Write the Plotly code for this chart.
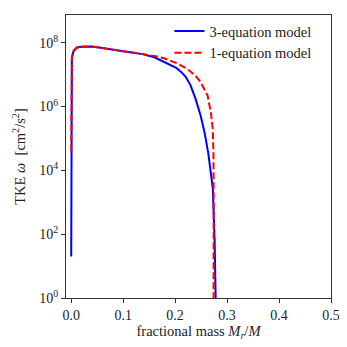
import plotly.graph_objects as go

# 3-equation model (blue, solid)
mass_3eq = [0.0, 0.0, 0.0013, 0.0046, 0.011, 0.02, 0.03, 0.04, 0.06, 0.08, 0.1, 0.12,
            0.137, 0.16, 0.177, 0.19, 0.203, 0.212, 0.22, 0.2295, 0.2394, 0.2494, 0.257,
            0.264, 0.268, 0.2725, 0.276, 0.278]
tke_3eq = [2.0e1, 1.26e7, 3.4e7, 5.5e7, 7.1e7, 7.5e7, 7.6e7, 7.6e7, 6.9e7, 6.0e7, 5.4e7, 4.9e7,
           4.4e7, 3.5e7, 2.6e7, 2.1e7, 1.6e7, 1.2e7, 8.7e6, 4.7e6, 1.74e6, 5.0e5, 1.45e5,
           3.3e4, 1.0e4, 2.75e3, 6.8e1, 1.0]

# 1-equation model (red, dashed)
mass_1eq = [0.0, 0.0, 0.0013, 0.0046, 0.011, 0.02, 0.03, 0.04, 0.06, 0.08, 0.1, 0.12,
            0.137, 0.163, 0.18, 0.203, 0.218, 0.2295, 0.24, 0.249, 0.2625, 0.269, 0.2725,
            0.2738, 0.2742, 0.274]
tke_1eq = [4.0e4, 1.26e7, 3.4e7, 5.5e7, 7.1e7, 7.5e7, 7.6e7, 7.6e7, 6.9e7, 6.0e7, 5.4e7, 4.9e7,
           4.4e7, 3.8e7, 3.2e7, 2.3e7, 1.7e7, 1.26e7, 8.9e6, 5.9e6, 2.2e6, 6.3e5, 1.86e5,
           3.3e4, 1.0e3, 0.8]

x_ticks = [0.0, 0.1, 0.2, 0.3, 0.4, 0.5]
x_labels = ["0.0", "0.1", "0.2", "0.3", "0.4", "0.5"]
y_ticks = [1, 1e2, 1e4, 1e6, 1e8]
y_labels = ["10<sup>0</sup>", "10<sup>2</sup>", "10<sup>4</sup>", "10<sup>6</sup>", "10<sup>8</sup>"]

font = "Liberation Serif"
ink = "#222222"

fig = go.Figure()
fig.add_trace(go.Scatter(x=mass_3eq, y=tke_3eq, mode="lines", name="3-equation model",
                         line=dict(color="#0000ff", width=2)))
fig.add_trace(go.Scatter(x=mass_1eq, y=tke_1eq, mode="lines", name="1-equation model",
                         line=dict(color="#ff0000", width=2, dash="7px,3px")))

axis_common = dict(showline=True, linecolor="#333333", linewidth=1.2, mirror=True,
                   ticks="outside", ticklen=4, tickcolor="#333333", showgrid=False,
                   zeroline=False, automargin=False,
                   tickfont=dict(family=font, size=14, color=ink))

fig.update_xaxes(range=[-0.01, 0.5], tickvals=x_ticks, ticktext=x_labels,
                 title=dict(text="fractional mass <i>M<sub>r</sub></i>/<i>M</i>",
                            font=dict(family=font, size=14.5, color=ink), standoff=2),
                 **axis_common)
fig.update_yaxes(type="log", range=[0, 8.87], tickvals=y_ticks, ticktext=y_labels,
                 title=dict(text="TKE <i>ω</i>  [cm<sup>2</sup>/s<sup>2</sup>]",
                            font=dict(family=font, size=14.5, color=ink), standoff=10),
                 **axis_common)

# the page body adds an 8px offset, so the figure is drawn 8px smaller
fig.update_layout(
    width=339, height=339,
    margin=dict(l=58, r=16, t=7, b=49),
    paper_bgcolor="white", plot_bgcolor="white",
    font=dict(family=font, size=14, color=ink),
    legend=dict(x=0.945, y=1.0, xanchor="right", yanchor="top",
                bgcolor="rgba(0,0,0,0)", font=dict(family=font, size=14.5, color=ink),
                tracegroupgap=0),
)

fig.write_html("out.html")
